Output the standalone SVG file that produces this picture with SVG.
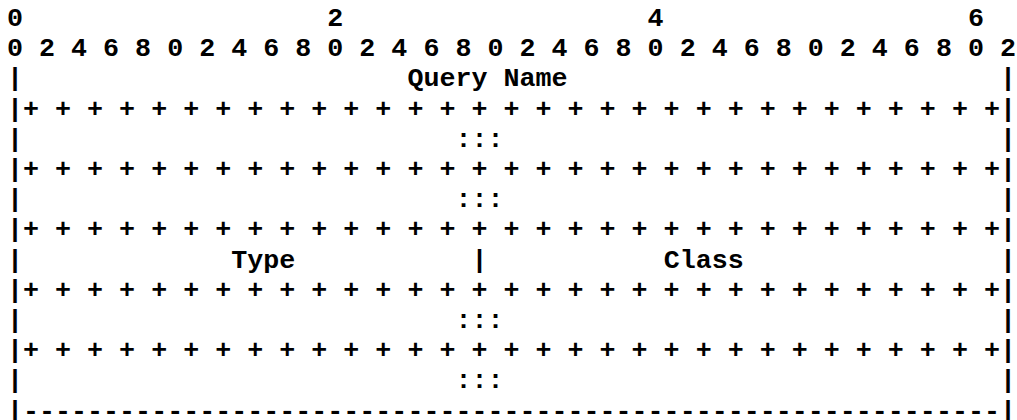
<svg xmlns="http://www.w3.org/2000/svg" width="1017" height="420" viewBox="0 0 1017 420">
<style>
text{font-family:"Liberation Mono","Courier New",monospace;font-size:26.69px;font-weight:bold;fill:#000;white-space:pre}
</style>
<rect width="1017" height="420" fill="#fff"/>
<g id="ruler">
<text x="7" y="26" xml:space="preserve">0                   2                   4                   6</text>
<text x="7" y="56.2" xml:space="preserve">0 2 4 6 8 0 2 4 6 8 0 2 4 6 8 0 2 4 6 8 0 2 4 6 8 0 2 4 6 8 0 2</text>
</g>
<g id="query-name">
<text x="7" y="86.4">|</text><text x="407.4" y="86.4">Query Name</text><text x="1000" y="86.4">|</text>
<text x="7" y="116.6" xml:space="preserve">|+ + + + + + + + + + + + + + + + + + + + + + + + + + + + + + +|</text>
<text x="7" y="146.8">|</text><text x="455.45" y="146.8">:::</text><text x="1000" y="146.8">|</text>
<text x="7" y="177" xml:space="preserve">|+ + + + + + + + + + + + + + + + + + + + + + + + + + + + + + +|</text>
<text x="7" y="207.2">|</text><text x="455.45" y="207.2">:::</text><text x="1000" y="207.2">|</text>
<text x="7" y="237.4" xml:space="preserve">|+ + + + + + + + + + + + + + + + + + + + + + + + + + + + + + +|</text>
</g>
<g id="type-class">
<text x="7" y="267.6">|</text><text x="231.2" y="267.6">Type</text><text x="471.5" y="267.6">|</text><text x="663.7" y="267.6">Class</text><text x="1000" y="267.6">|</text>
<text x="7" y="297.8" xml:space="preserve">|+ + + + + + + + + + + + + + + + + + + + + + + + + + + + + + +|</text>
</g>
<g id="tail">
<text x="7" y="328">|</text><text x="455.45" y="328">:::</text><text x="1000" y="328">|</text>
<text x="7" y="358.2" xml:space="preserve">|+ + + + + + + + + + + + + + + + + + + + + + + + + + + + + + +|</text>
<text x="7" y="388.4">|</text><text x="455.45" y="388.4">:::</text><text x="1000" y="388.4">|</text>
<text x="7" y="418.6" xml:space="preserve">|-------------------------------------------------------------|</text>
</g>
</svg>
